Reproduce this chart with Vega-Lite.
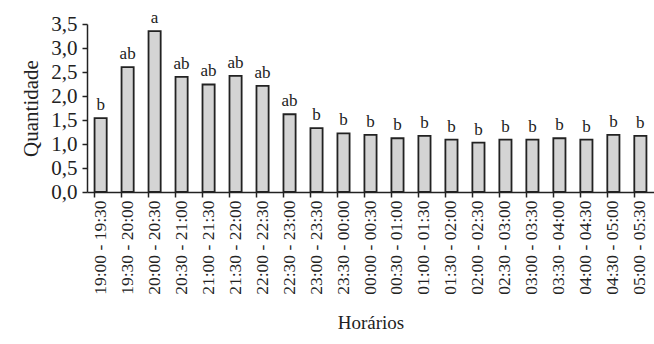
{
  "$schema": "https://vega.github.io/schema/vega-lite/v6.json",
  "autosize": "none",
  "width": 567,
  "height": 168,
  "padding": {"left": 87, "top": 24, "right": 0, "bottom": 152},
  "background": "white",
  "config": {"view": {"stroke": null}, "font": "Liberation Serif"},
  "data": {"values": [
    {"h": "19:00 - 19:30", "q": 1.54, "g": "b"},
    {"h": "19:30 - 20:00", "q": 2.60, "g": "ab"},
    {"h": "20:00 - 20:30", "q": 3.35, "g": "a"},
    {"h": "20:30 - 21:00", "q": 2.40, "g": "ab"},
    {"h": "21:00 - 21:30", "q": 2.24, "g": "ab"},
    {"h": "21:30 - 22:00", "q": 2.42, "g": "ab"},
    {"h": "22:00 - 22:30", "q": 2.21, "g": "ab"},
    {"h": "22:30 - 23:00", "q": 1.62, "g": "ab"},
    {"h": "23:00 - 23:30", "q": 1.33, "g": "b"},
    {"h": "23:30 - 00:00", "q": 1.22, "g": "b"},
    {"h": "00:00 - 00:30", "q": 1.19, "g": "b"},
    {"h": "00:30 - 01:00", "q": 1.12, "g": "b"},
    {"h": "01:00 - 01:30", "q": 1.17, "g": "b"},
    {"h": "01:30 - 02:00", "q": 1.09, "g": "b"},
    {"h": "02:00 - 02:30", "q": 1.03, "g": "b"},
    {"h": "02:30 - 03:00", "q": 1.09, "g": "b"},
    {"h": "03:00 - 03:30", "q": 1.09, "g": "b"},
    {"h": "03:30 - 04:00", "q": 1.12, "g": "b"},
    {"h": "04:00 - 04:30", "q": 1.09, "g": "b"},
    {"h": "04:30 - 05:00", "q": 1.19, "g": "b"},
    {"h": "05:00 - 05:30", "q": 1.17, "g": "b"}
  ]},
  "encoding": {
    "x": {"field": "h", "type": "nominal", "sort": null,
      "scale": {"paddingInner": 0.55, "paddingOuter": 0.28},
      "axis": {"title": "Horários", "titleFont": "Liberation Serif", "titleFontSize": 19, "titleFontWeight": "normal", "titleColor": "#222", "titlePadding": 19,
        "labelAngle": -90, "labelFont": "Liberation Serif", "labelFontSize": 17.5, "labelColor": "#222", "labelPadding": 3,
        "bandPosition": 0, "tickColor": "#222", "tickWidth": 1.5, "tickSize": 5, "domainColor": "#222", "domainWidth": 1.5, "grid": false}},
    "y": {"field": "q", "type": "quantitative",
      "scale": {"domain": [0, 3.5], "nice": false},
      "axis": {"title": "Quantidade", "titleFont": "Liberation Serif", "titleFontSize": 21, "titleFontWeight": "normal", "titleColor": "#222", "titlePadding": 9,
        "values": [0, 0.5, 1, 1.5, 2, 2.5, 3, 3.5],
        "labelExpr": "replace(format(datum.value, '.1f'), '.', ',')",
        "labelFont": "Liberation Serif", "labelFontSize": 21, "labelColor": "#222", "labelPadding": 5,
        "tickColor": "#222", "tickWidth": 1.5, "tickSize": 5, "domainColor": "#222", "domainWidth": 1.5, "grid": false}}
  },
  "layer": [
    {"mark": {"type": "bar", "fill": "#d4d4d4", "stroke": "#222", "strokeWidth": 1.8}},
    {"mark": {"type": "text", "baseline": "bottom", "dy": -4, "font": "Liberation Serif", "fontSize": 17, "color": "#222"},
      "encoding": {"text": {"field": "g"}}}
  ]
}
